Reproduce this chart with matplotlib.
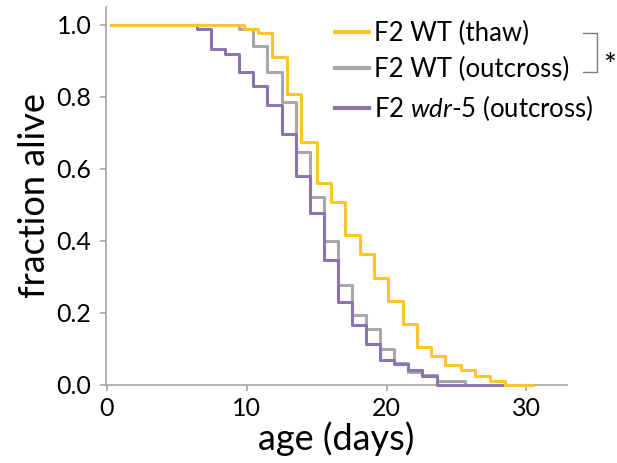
import matplotlib
matplotlib.use("Agg")
import matplotlib.pyplot as plt
from matplotlib.lines import Line2D

plt.rcParams['font.family'] = ['Lato', 'DejaVu Sans']
plt.rcParams['mathtext.fontset'] = 'custom'
plt.rcParams['mathtext.it'] = 'Lato:italic'
plt.rcParams['mathtext.rm'] = 'Lato'

# survival curves: day of each drop and fraction alive after it
start_day = 0.3
thaw_days = [9.8, 10.8, 11.8, 12.9, 13.9, 15.0, 16.0, 17.0, 18.1, 19.1, 20.1,
             21.2, 22.2, 23.2, 24.2, 25.3, 26.3, 27.4, 28.45]
thaw_alive = [0.987, 0.976, 0.911, 0.807, 0.674, 0.559, 0.508, 0.417, 0.364, 0.297,
              0.233, 0.168, 0.105, 0.079, 0.054, 0.040, 0.024, 0.011, 0.0]
thaw_end = 30.5

wt_days = [9.45, 10.45, 11.45, 12.5, 13.5, 14.5, 15.5, 16.5, 17.5, 18.5, 19.5,
           20.5, 21.5, 22.5, 23.6, 25.6]
wt_alive = [0.987, 0.940, 0.869, 0.786, 0.645, 0.520, 0.399, 0.276, 0.193, 0.156,
            0.098, 0.060, 0.036, 0.026, 0.011, 0.0]

wdr_days = [6.45, 7.45, 8.45, 9.45, 10.45, 11.45, 12.5, 13.5, 14.5, 15.5, 16.5,
            17.5, 18.5, 19.5, 20.5, 21.5, 22.5, 23.6]
wdr_alive = [0.989, 0.932, 0.918, 0.869, 0.829, 0.778, 0.696, 0.580, 0.477, 0.346,
             0.230, 0.165, 0.114, 0.070, 0.057, 0.042, 0.024, 0.0]
wdr_end = 28.3

labels = ['F2 WT (thaw)', 'F2 WT (outcross)', r'F2 $\mathit{wdr}$-$\mathit{5}$ (outcross)']
colors = ['#FFC62A', '#A8A8A8', '#8C74B0']


def step_xy(days, alive, end=None):
    xs = [start_day] + list(days)
    ys = [1.0] + list(alive)
    if end is not None:
        xs.append(end)
        ys.append(alive[-1])
    return xs, ys


fig = plt.figure(figsize=(6.17, 4.63), dpi=100)
ax = fig.add_axes([0.172, 0.169, 0.747, 0.816])

series = [step_xy(thaw_days, thaw_alive, thaw_end),
          step_xy(wt_days, wt_alive),
          step_xy(wdr_days, wdr_alive, wdr_end)]
# draw gray, purple then yellow so the order matches the figure
for i in [1, 2, 0]:
    xs, ys = series[i]
    ax.step(xs, ys, where='post', color=colors[i], lw=2.2, label=labels[i],
            clip_on=False, zorder=3)

ax.set_xlim(-0.05, 32.9)
ax.set_ylim(0, 1.049)
ax.set_xticks([0, 10, 20, 30])
ax.set_yticks([0.0, 0.2, 0.4, 0.6, 0.8, 1.0])
ax.set_yticklabels(['0.0', '0.2', '0.4', '0.6', '0.8', '1.0'])

for s in ['top', 'right']:
    ax.spines[s].set_visible(False)
for s in ['left', 'bottom']:
    ax.spines[s].set_color('#A6A6A6')
    ax.spines[s].set_linewidth(1.2)
    ax.spines[s].set_zorder(1)
ax.tick_params(colors='#A6A6A6', labelcolor='black', labelsize=18, length=4.5, width=1.2)
ax.tick_params(axis='y', pad=6)
ax.tick_params(axis='x', pad=4)

ax.set_xlabel('age (days)', fontsize=26, labelpad=1)
ax.set_ylabel('fraction alive', fontsize=26, labelpad=4)

handles = [Line2D([], [], color=c, lw=3) for c in colors]
ax.legend(handles, labels, loc='upper left', bbox_to_anchor=(0.475, 0.99),
          frameon=False, fontsize=18.5, handlelength=1.3, handletextpad=0.22,
          labelspacing=0.42, borderaxespad=0)

# significance bracket between the two WT curves
bx0, bx1 = 583 / 617, 597 / 617
by0, by1 = 1 - 33 / 463, 1 - 72 / 463
fig.add_artist(Line2D([bx0, bx1, bx1, bx0], [by0, by0, by1, by1],
                      color='#7F7F7F', lw=1.0))
fig.text(603 / 617, 1 - 66 / 463, '*', fontsize=22, va='center', ha='left')

fig.savefig('out.png', dpi=100)
